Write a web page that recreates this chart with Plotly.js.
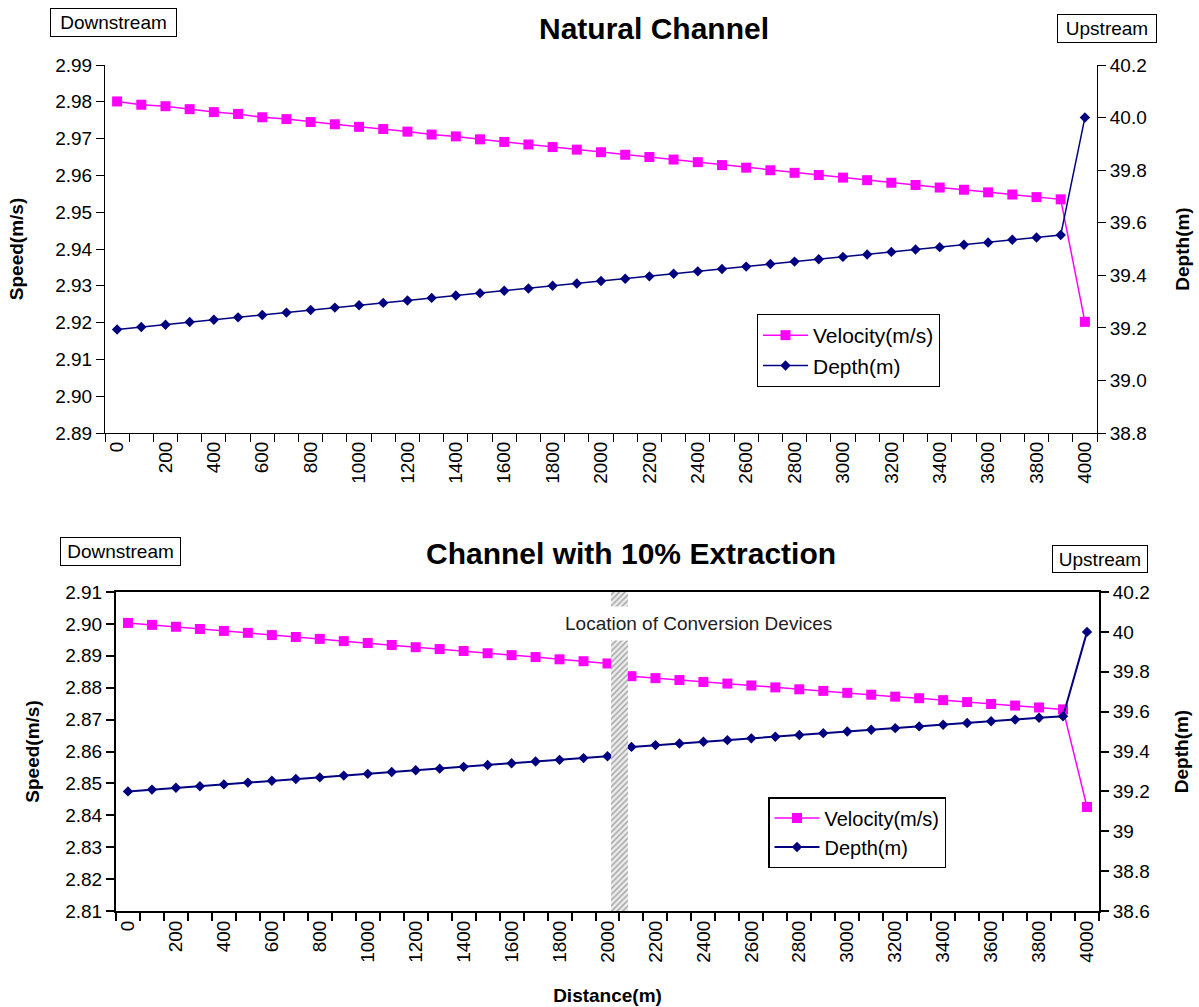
<!DOCTYPE html>
<html>
<head>
<meta charset="utf-8">
<script src="https://cdn.plot.ly/plotly-3.0.1.min.js"></script>
<style>
html,body{margin:0;padding:0;background:#fff;}
#chart{width:1199px;height:1007px;}
</style>
</head>
<body>
<div id="chart"></div>
<script>
// ---- data ----
const distance = [0,100,200,300,400,500,600,700,800,900,1000,1100,1200,1300,1400,1500,1600,1700,1800,1900,2000,
                  2100,2200,2300,2400,2500,2600,2700,2800,2900,3000,3100,3200,3300,3400,3500,3600,3700,3800,3900,4000];

const naturalVelocity = [2.9801,2.9792,2.9788,2.9780,2.9772,2.9767,2.9758,2.9753,2.9745,2.9739,2.9732,
                         2.9726,2.9719,2.9711,2.9706,2.9698,2.9691,2.9684,2.9677,2.9670,2.9663,
                         2.9656,2.9650,2.9643,2.9636,2.9628,2.9621,2.9614,2.9607,2.9601,2.9594,
                         2.9587,2.9580,2.9574,2.9567,2.9561,2.9554,2.9548,2.9541,2.9535,2.9202];

const naturalDepth = [39.194,39.203,39.212,39.222,39.231,39.240,39.249,39.258,39.268,39.277,39.286,
                      39.295,39.304,39.314,39.323,39.332,39.341,39.350,39.360,39.369,39.378,
                      39.387,39.396,39.406,39.415,39.424,39.433,39.443,39.452,39.461,39.470,
                      39.479,39.489,39.498,39.507,39.516,39.525,39.535,39.544,39.553,40.000];

const extractionVelocity = [2.9003,2.8997,2.8991,2.8984,2.8978,2.8972,2.8965,2.8959,2.8953,2.8946,2.8940,
                            2.8934,2.8927,2.8921,2.8915,2.8908,2.8902,2.8896,2.8889,2.8883,2.8876,
                            2.8836,2.8830,2.8824,2.8818,2.8813,2.8807,2.8801,2.8795,2.8790,2.8784,
                            2.8778,2.8772,2.8767,2.8761,2.8755,2.8749,2.8744,2.8738,2.8732,2.8426];

const extractionDepth = [39.200,39.209,39.218,39.226,39.235,39.244,39.253,39.262,39.270,39.279,39.288,
                         39.297,39.306,39.314,39.323,39.332,39.341,39.350,39.358,39.367,39.376,
                         39.423,39.432,39.440,39.449,39.457,39.466,39.474,39.483,39.492,39.500,
                         39.509,39.517,39.526,39.534,39.543,39.552,39.560,39.569,39.577,40.000];

const xTickVals = [0,200,400,600,800,1000,1200,1400,1600,1800,2000,2200,2400,2600,2800,3000,3200,3400,3600,3800,4000];
const xTickText = ['0','200','400','600','800','1000','1200','1400','1600','1800','2000','2200','2400','2600','2800','3000','3200','3400','3600','3800','4000'];

const deviceLocation = [2050];
const deviceExtent = [1];

// ---- styling ----
const FONT = 'Liberation Sans, Arial, sans-serif';
const W = 1199, H = 1007;
const px = v => v / W;
const py = v => 1 - v / H;
const PINK = '#FF00FF', NAVY = '#000080';

const traces = [
  {x: distance, y: naturalVelocity, xaxis: 'x', yaxis: 'y', name: 'Velocity(m/s)', legend: 'legend',
   mode: 'lines+markers', line: {color: PINK, width: 1.5}, marker: {symbol: 'square', size: 10, color: PINK}},
  {x: distance, y: naturalDepth, xaxis: 'x', yaxis: 'y2', name: 'Depth(m)', legend: 'legend',
   mode: 'lines+markers', line: {color: NAVY, width: 1.5}, marker: {symbol: 'diamond', size: 8, color: NAVY}},
  {x: distance, y: extractionVelocity, xaxis: 'x2', yaxis: 'y3', name: 'Velocity(m/s)', legend: 'legend2',
   mode: 'lines+markers', line: {color: PINK, width: 1.5}, marker: {symbol: 'square', size: 10, color: PINK}},
  {x: distance, y: extractionDepth, xaxis: 'x2', yaxis: 'y4', name: 'Depth(m)', legend: 'legend2',
   mode: 'lines+markers', line: {color: NAVY, width: 2}, marker: {symbol: 'diamond', size: 8, color: NAVY}},
  {type: 'bar', x: deviceLocation, y: deviceExtent, xaxis: 'x2', yaxis: 'y5', width: 70, showlegend: false,
   marker: {color: '#e4e4e4', line: {width: 0},
            pattern: {shape: '/', fgcolor: '#a0a0a0', bgcolor: '#ececec', size: 4, solidity: 0.35}}}
];

const tickFont = {family: FONT, size: 19, color: '#000'};
const titleFont = {family: FONT, size: 19, color: '#000'};

function xAxis(domain, anchor, lw) {
  return {
    domain: domain, anchor: anchor, range: [-50, 4050],
    showline: true, linecolor: '#000', linewidth: lw,
    tickmode: 'array', tickvals: xTickVals, ticktext: xTickText, ticks: '',
    tickangle: -90, tickfont: {family: FONT, size: 19, color: '#000'},
    minor: {ticks: 'outside', ticklen: 8, tickcolor: '#000', tickwidth: lw, tickmode: 'linear', tick0: 50, dtick: 100, showgrid: false},
    showgrid: false, zeroline: false, fixedrange: true
  };
}
function yAxis(domain, anchor, range, dtick, fmt, side, lw, title, standoff) {
  const a = {
    domain: domain, anchor: anchor, range: range, tickmode: 'linear', tick0: range[0], dtick: dtick,
    showline: true, linecolor: '#000', linewidth: lw, ticks: 'outside', ticklen: 8, tickcolor: '#000', tickwidth: lw,
    tickfont: tickFont, showgrid: false, zeroline: false, side: side, fixedrange: true,
    title: {text: '<b>' + title + '</b>', font: titleFont, standoff: standoff}
  };
  if (fmt) a.tickformat = fmt;
  return a;
}

const topX = [px(105), px(1097)];
const topY = [py(433), py(65)];
const botX = [px(116), px(1099)];
const botY = [py(911), py(592)];

const boxAnn = (text, cx, cy, w, h) => ({
  text: text, xref: 'paper', yref: 'paper', x: px(cx), y: py(cy), xanchor: 'center', yanchor: 'middle',
  showarrow: false, font: {family: FONT, size: 19, color: '#000'}, bordercolor: '#000', borderwidth: 1,
  borderpad: 2, bgcolor: '#fff', width: w, height: h
});

const layout = {
  width: W, height: H, margin: {l: 0, r: 0, t: 0, b: 0},
  paper_bgcolor: '#fff', plot_bgcolor: 'rgba(0,0,0,0)', font: {family: FONT, color: '#000'},
  showlegend: true, hovermode: false,
  title: {text: '<b>Natural Channel</b>', font: {family: FONT, size: 30, color: '#000'},
          xref: 'paper', yref: 'paper', x: px(654), y: py(28), xanchor: 'center', yanchor: 'middle'},
  xaxis: xAxis(topX, 'y', 1),
  yaxis: yAxis(topY, 'x', [2.89, 2.99], 0.01, '.2f', 'left', 1, 'Speed(m/s)', 26),
  yaxis2: Object.assign(yAxis(topY, 'x', [38.8, 40.2], 0.2, '.1f', 'right', 1, 'Depth(m)', 29), {overlaying: 'y'}),
  xaxis2: Object.assign(xAxis(botX, 'y3', 2), {mirror: true,
           title: {text: '<b>Distance(m)</b>', font: titleFont, standoff: 27}}),
  yaxis3: yAxis(botY, 'x2', [2.81, 2.91], 0.01, '.2f', 'left', 2, 'Speed(m/s)', 21),
  yaxis4: Object.assign(yAxis(botY, 'x2', [38.6, 40.2], 0.2, '', 'right', 2, 'Depth(m)', 25), {overlaying: 'y3'}),
  yaxis5: {domain: botY, anchor: 'x2', overlaying: 'y3', range: [0, 1], visible: false, fixedrange: true},
  legend: {x: px(757), y: py(314), xanchor: 'left', yanchor: 'top', bgcolor: '#fff', bordercolor: '#000', borderwidth: 1,
           font: {family: FONT, size: 21, color: '#000'}, itemwidth: 45, tracegroupgap: 0},
  legend2: {x: px(768), y: py(797), xanchor: 'left', yanchor: 'top', bgcolor: '#fff', bordercolor: '#000', borderwidth: 1.5,
            font: {family: FONT, size: 20, color: '#000'}, itemwidth: 45, tracegroupgap: 0},
  annotations: [
    boxAnn('Downstream', 113.5, 22.5, 121, 23),
    boxAnn('Upstream', 1107, 28.5, 94, 23),
    boxAnn('Downstream', 120.5, 551.5, 115, 23),
    boxAnn('Upstream', 1100, 559, 90, 22),
    {text: '<b>Channel with 10% Extraction</b>', xref: 'paper', yref: 'paper', x: px(630.5), y: py(553),
     xanchor: 'center', yanchor: 'middle', showarrow: false, font: {family: FONT, size: 30, color: '#000'}},
    {text: 'Location of Conversion Devices', xref: 'paper', yref: 'paper', x: px(698), y: py(623),
     xanchor: 'center', yanchor: 'middle', showarrow: false, font: {family: FONT, size: 19, color: '#222'},
     bgcolor: '#fff', borderpad: 6}
  ]
};

Plotly.newPlot('chart', traces, layout, {displayModeBar: false, staticPlot: true});
</script>
</body>
</html>
